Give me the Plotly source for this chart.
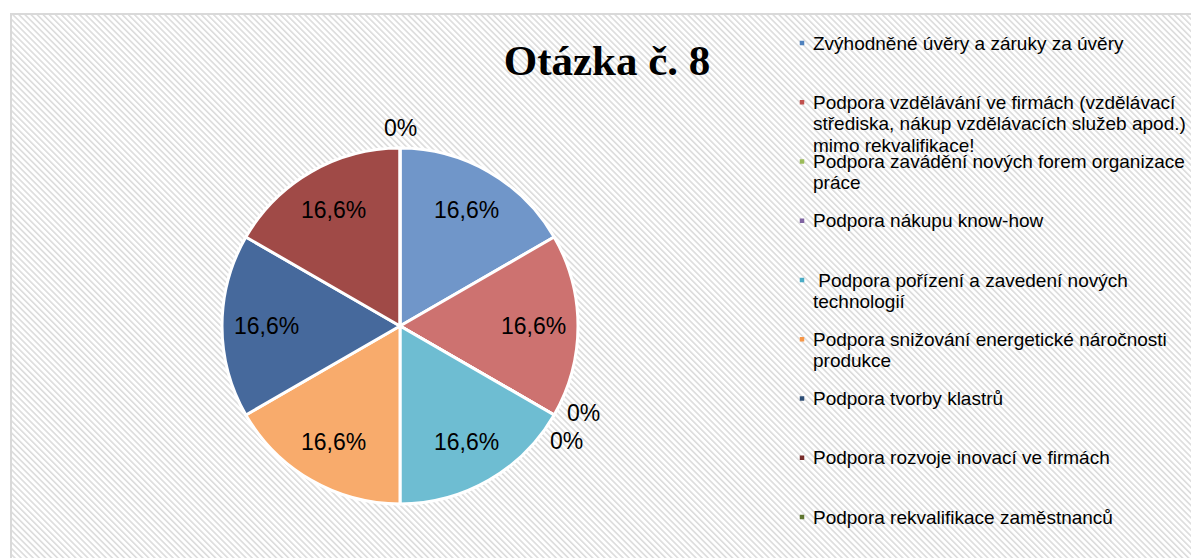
import math
import urllib.parse
import plotly.graph_objects as go

# ---------------- data ----------------
categories = [
    "Zvýhodněné úvěry a záruky za úvěry",
    "Podpora vzdělávání ve firmách (vzdělávací<br>střediska, nákup vzdělávacích služeb apod.)<br>mimo rekvalifikace!",
    "Podpora zavádění nových forem organizace<br>práce",
    "Podpora nákupu know-how",
    "\u00a0Podpora pořízení a zavedení nových<br>technologií",
    "Podpora snižování energetické náročnosti<br>produkce",
    "Podpora tvorby klastrů",
    "Podpora rozvoje inovací ve firmách",
    "Podpora rekvalifikace zaměstnanců",
]
values = [16.6, 16.6, 0, 0, 16.6, 16.6, 16.6, 16.6, 0]
slice_colors = ["#7096c9", "#cd7270", "#9bbb59", "#8064a2", "#6ebdd2",
                "#f8ab6c", "#46699c", "#a04a47", "#77933c"]
legend_colors = ["#4f81bd", "#c0504d", "#9bbb59", "#8064a2", "#4bacc6",
                 "#f79646", "#2c4d75", "#772c2a", "#5f7530"]
title_text = "Otázka č. 8"

# ---------------- derived ----------------
W, H = 1191, 558
labels = [c.replace("<br>", " ").strip() for c in categories]


def fmt(v):
    if float(v).is_integer():
        return f"{int(v)}%"
    return f"{v:.1f}".replace(".", ",") + "%"


texts = [fmt(v) for v in values]

cx, cy, r = 400, 326, 178

fig = go.Figure()
fig.add_trace(go.Pie(
    labels=labels,
    values=values,
    text=texts,
    textinfo="none",
    sort=False,
    direction="clockwise",
    rotation=0,
    marker=dict(colors=slice_colors, line=dict(color="#ffffff", width=3)),
    domain=dict(x=[(cx - r) / W, (cx + r) / W], y=[1 - (cy + r) / H, 1 - (cy - r) / H]),
    showlegend=False,
    hoverinfo="label+text",
))

annotations = []
shapes = []

# data labels placed from the cumulative shares (Excel style)
total = sum(values)
cum = 0.0
zero_groups = {}
for v, t in zip(values, texts):
    start = round(cum / total * 360, 6)
    cum += v
    end = round(cum / total * 360, 6)
    if v > 0:
        mid = math.radians((start + end) / 2)
        rr = 0.75 * r
        x = cx + rr * math.sin(mid)
        y = cy - rr * math.cos(mid)
    else:
        ang = round(start % 360, 3)
        if abs(ang - 360) < 1e-3:
            ang = 0.0
        k = zero_groups.get(ang, 0)
        zero_groups[ang] = k + 1
        th = math.radians(ang)
        rr = r + 20 if ang == 0 else r + 24
        x = cx + rr * math.sin(th)
        y = cy - rr * math.cos(th)
        if ang != 0:
            s = -16.5 if k == 0 else 16.5
            x += s * math.cos(th)
            y += s * math.sin(th)
    annotations.append(dict(
        text=t, xref="paper", yref="paper", x=x / W, y=1 - y / H,
        xanchor="center", yanchor="middle", showarrow=False,
        font=dict(family="Liberation Sans, Arial", size=23, color="#000000"),
    ))

# background hatch (decoration) as svg image
bx0, by0 = 11, 14
bw, bh = W - bx0, H - by0
svg = (
    f"<svg xmlns='http://www.w3.org/2000/svg' width='{bw}' height='{bh}'>"
    "<defs><pattern id='p' width='4.3' height='4.3' patternUnits='userSpaceOnUse' "
    "patternTransform='rotate(-45)'>"
    "<rect width='4.3' height='4.3' fill='#ffffff'/>"
    "<rect width='1.6' height='4.3' fill='#dcdcdc'/></pattern></defs>"
    "<rect width='100%' height='100%' fill='url(#p)'/></svg>"
)
src = "data:image/svg+xml;charset=utf-8," + urllib.parse.quote(svg)

# border
shapes.append(dict(type="rect", xref="paper", yref="paper",
                   x0=bx0 / W, x1=(W + 5) / W, y0=-5 / H, y1=1 - by0 / H,
                   line=dict(color="#d9d9d9", width=2), fillcolor="rgba(0,0,0,0)", layer="above"))

# legend (manual, Excel-like fixed spacing)
leg_key_x = 802
leg_text_x = 811
leg_y0 = 43
leg_step = 59.25
line_step = 21.5
key = 4.5
for i, (cat, col) in enumerate(zip(categories, legend_colors)):
    yy = leg_y0 + i * leg_step
    shapes.append(dict(type="rect", xref="paper", yref="paper",
                       x0=(leg_key_x - key / 2) / W, x1=(leg_key_x + key / 2) / W,
                       y0=1 - (yy + key / 2) / H, y1=1 - (yy - key / 2) / H,
                       line=dict(width=0), fillcolor=col))
    for j, line in enumerate(cat.split("<br>")):
        annotations.append(dict(
            text=line, xref="paper", yref="paper",
            x=leg_text_x / W, y=1 - (yy + j * line_step) / H,
            xanchor="left", yanchor="middle", showarrow=False,
            font=dict(family="Liberation Sans, Arial", size=19, color="#000000"),
        ))

fig.update_layout(
    width=W, height=H,
    margin=dict(l=0, r=0, t=0, b=0),
    paper_bgcolor="#ffffff",
    plot_bgcolor="#ffffff",
    title=dict(text=f"<b>{title_text}</b>", x=607 / W, xanchor="center",
               y=1 - 60 / H, yanchor="middle",
               font=dict(family="Liberation Serif, Times New Roman", size=43, color="#000000")),
    images=[dict(source=src, xref="paper", yref="paper", x=bx0 / W, y=1 - by0 / H,
                 sizex=bw / W, sizey=bh / H, xanchor="left", yanchor="top",
                 sizing="stretch", layer="below")],
    shapes=shapes,
    annotations=annotations,
)

fig.write_html("out.html", config={"displayModeBar": False},
               post_script="document.body.style.margin='0';document.body.style.overflow='hidden';")
